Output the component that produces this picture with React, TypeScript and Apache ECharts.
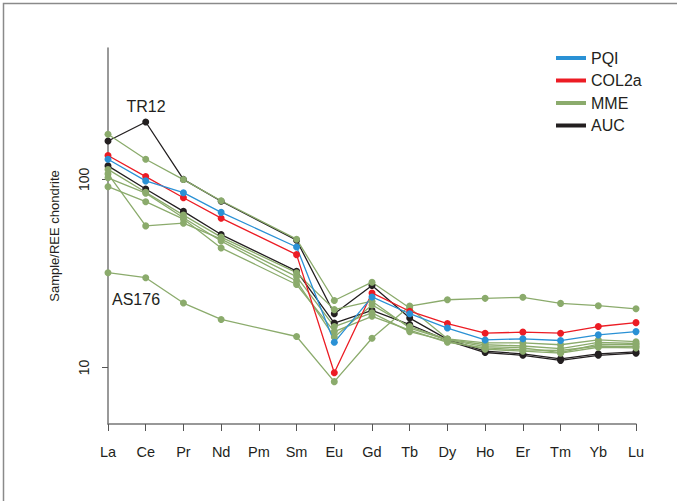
import React, { useEffect, useRef } from "react";
import * as echarts from "echarts";

const categories = ["La", "Ce", "Pr", "Nd", "Pm", "Sm", "Eu", "Gd", "Tb", "Dy", "Ho", "Er", "Tm", "Yb", "Lu"];

const pqi = [128, 98.2, 85.0, 66.8, null, 43.7, 13.6, 23.7, 19.3, 16.2, 14.0, 14.2, 13.9, 14.9, 15.5];
const col2a = [134, 103.5, 79.9, 62.2, null, 39.8, 9.37, 24.9, 19.9, 17.1, 15.2, 15.4, 15.2, 16.5, 17.3];

const aucTR12 = [160, 202, 100, 76.5, null, 47.5, 19.3, 27.3, 18.3, 14.1, 12.2, 11.8, 11.1, 11.8, 12.1];
const auc2 = [118, 88.9, 67.6, 50.9, null, 32.5, 17.2, 20.1, 16.9, 13.9, 12.0, 11.6, 10.9, 11.6, 11.9];

const mme1 = [174, 128, 99.8, 77.0, null, 48.1, 22.7, 28.4, 20.7, 14.2, 13.5, 13.5, 13.2, 14.0, 13.7];
const mme2 = [113, 85.4, 64.6, 49.3, null, 31.9, 20.3, 22.5, 16.2, 14.0, 12.9, 12.7, 12.0, 13.3, 13.2];
const mme3 = [107, 56.6, 58.5, 48.1, null, 30.4, 16.5, 19.5, 15.5, 13.8, 12.5, 12.2, 11.9, 12.8, 12.7];
const mme4 = [91.5, 76.1, 61.5, 43.2, null, 27.6, 15.5, 18.7, 15.8, 13.6, 12.7, 12.4, 12.3, 13.0, 12.9];
const mme5 = [102, 84.5, 62.5, 47.0, null, 28.8, 14.5, 21.5, 16.5, 14.1, 13.2, 13.0, 12.6, 13.6, 13.4];
const as176 = [31.9, 30.0, 22.0, 18.0, null, 14.6, 8.4, 14.3, 21.2, 22.9, 23.3, 23.6, 21.9, 21.3, 20.5];

const yTicks = [10, 100];

const COLORS = { PQI: "#2a91d5", COL2a: "#ec1c24", MME: "#8bab6c", AUC: "#231f20" };

const NARROW = "'Liberation Sans Narrow', 'Arial Narrow', 'Liberation Sans', sans-serif";
const SANS = "'Liberation Sans', Arial, sans-serif";

function mk(name: string, data: (number | null)[]) {
  const c = (COLORS as any)[name];
  return {
    name,
    type: "line",
    data,
    connectNulls: true,
    symbol: "circle",
    symbolSize: 7,
    lineStyle: { color: c, width: 1.3 },
    itemStyle: { color: c },
    emphasis: { disabled: true },
  };
}

export default function App() {
  const ref = useRef<HTMLDivElement>(null);
  useEffect(() => {
    document.body.style.margin = "0";
    const chart = echarts.init(ref.current!, null, { renderer: "svg" });
    chart.setOption({
      animation: false,
      backgroundColor: "#fff",
      grid: { left: 108, right: 41, top: 48, bottom: 77 },
      legend: {
        orient: "vertical",
        left: 551,
        top: 45,
        itemWidth: 30,
        itemHeight: 4,
        itemGap: 6.5,
        icon: "rect",
        data: ["PQI", "COL2a", "MME", "AUC"],
        textStyle: { fontFamily: SANS, fontSize: 16, color: "#231f20", lineHeight: 16 },
      },
      xAxis: {
        type: "category",
        data: categories,
        boundaryGap: false,
        axisLine: { lineStyle: { color: "#777", width: 1.5 } },
        axisTick: { show: true, length: 7, lineStyle: { color: "#555", width: 1 } },
        axisLabel: { fontFamily: NARROW, fontSize: 14.5, color: "#231f20", margin: 20 },
        splitLine: { show: false },
      },
      yAxis: {
        type: "log",
        logBase: 10,
        min: 5,
        max: 500,
        name: "Sample/REE chondrite",
        nameLocation: "middle",
        nameGap: 47,
        nameTextStyle: { fontFamily: SANS, fontSize: 13, color: "#231f20" },
        axisLine: { show: true, lineStyle: { color: "#777", width: 1.5 } },
        axisTick: { show: true, length: 6, lineStyle: { color: "#555", width: 1 }, customValues: yTicks },
        axisLabel: { fontFamily: NARROW, fontSize: 14, color: "#231f20", rotate: 90, margin: 17, customValues: yTicks },
        splitLine: { show: false },
        minorTick: { show: false },
      },
      graphic: [
        {
          type: "rect",
          shape: { x: 3.5, y: 3.5, width: 720, height: 600 },
          style: { fill: "none", stroke: "#8a8a8a", lineWidth: 1.5 },
          silent: true,
        },
        {
          type: "text",
          x: 146,
          y: 106,
          style: { text: "TR12", fontFamily: SANS, fontSize: 16, fill: "#231f20", textAlign: "center", textVerticalAlign: "middle" },
        },
        {
          type: "text",
          x: 112,
          y: 299,
          style: { text: "AS176", fontFamily: SANS, fontSize: 16, fill: "#231f20", textAlign: "left", textVerticalAlign: "middle" },
        },
      ],
      series: [
        mk("AUC", aucTR12),
        mk("AUC", auc2),
        mk("MME", mme1),
        mk("MME", mme2),
        mk("MME", mme3),
        mk("MME", mme4),
        mk("MME", mme5),
        mk("MME", as176),
        mk("COL2a", col2a),
        mk("PQI", pqi),
      ],
    });
    return () => chart.dispose();
  }, []);
  return <div ref={ref} style={{ position: "absolute", left: 0, top: 0, width: 677, height: 501 }} />;
}
